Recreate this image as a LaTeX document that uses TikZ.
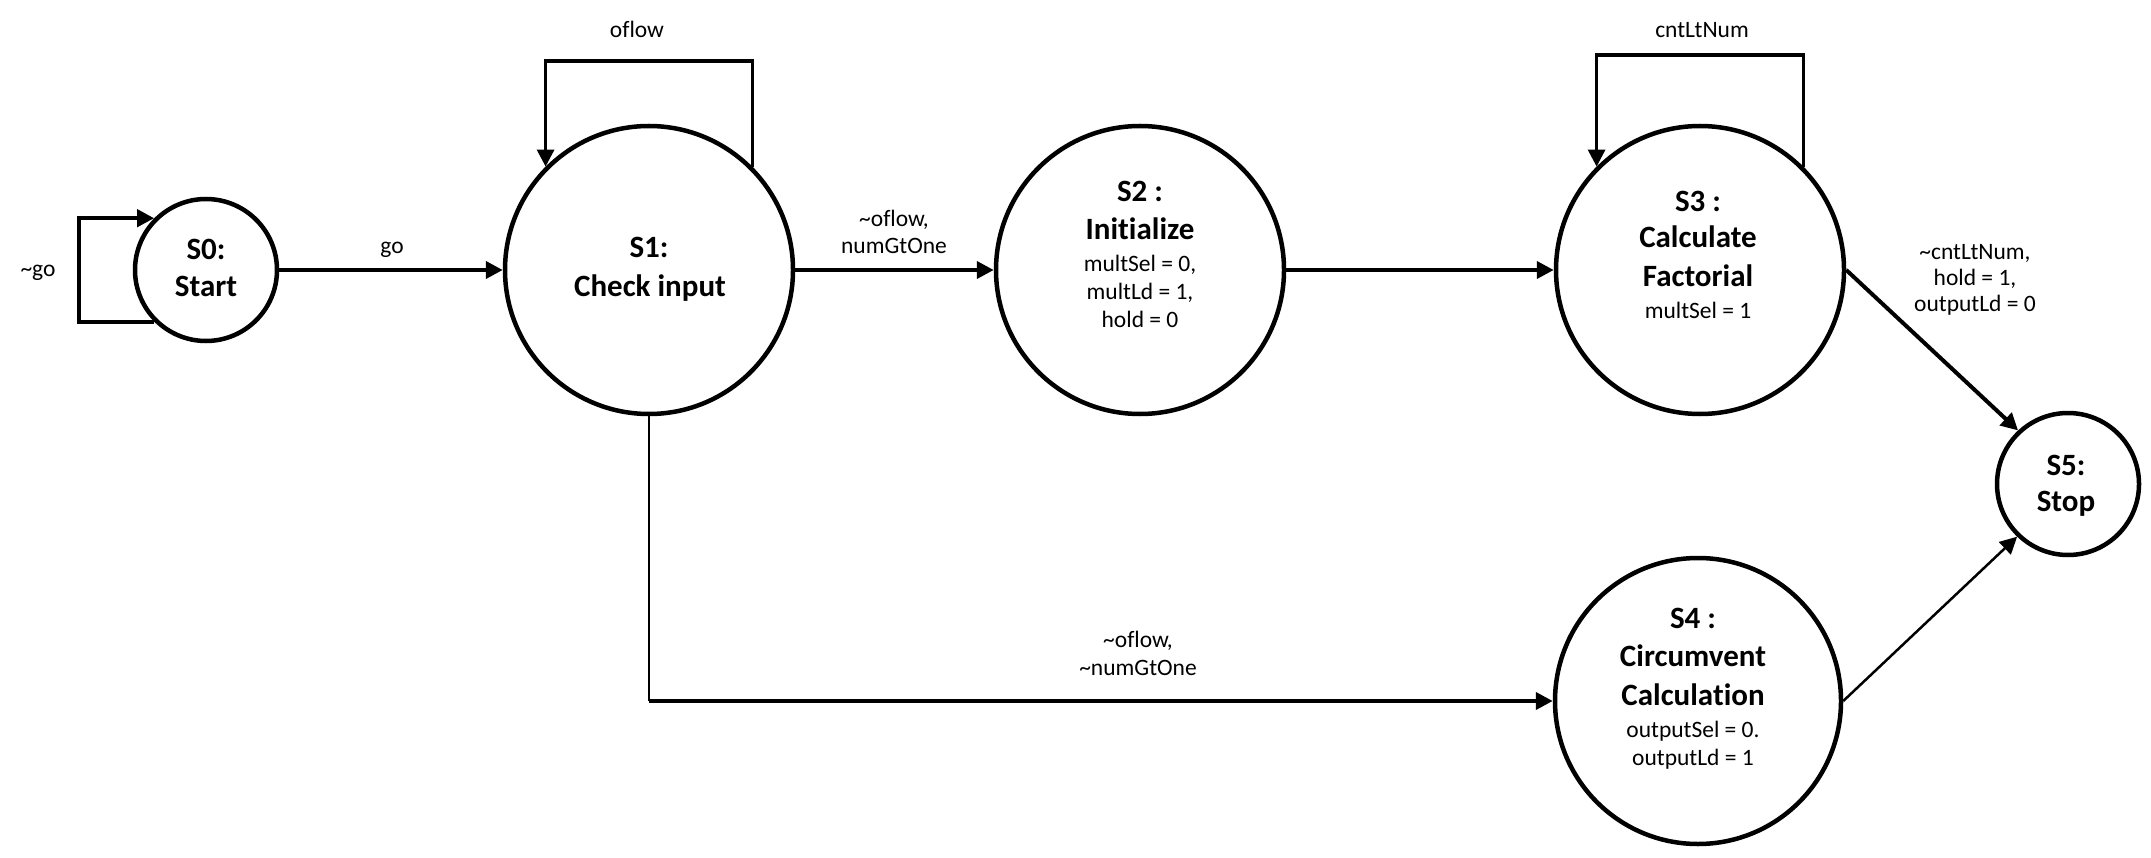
\documentclass[tikz,border=0pt]{standalone}
\usepackage{fontspec}
\setmainfont{Carlito}[Ligatures=NoCommon]
\usetikzlibrary{arrows.meta}
\begin{document}
\begin{tikzpicture}[x=1pt,y=-1pt,
  state/.style={circle,draw,line width=4.5pt,inner sep=0pt,minimum size=#1},
  ttl/.style={anchor=base,inner sep=0pt,font=\fontsize{31}{38}\selectfont\bfseries},
  sml/.style={anchor=base,inner sep=0pt,font=\fontsize{23.5}{28}\selectfont},
  tip/.style={-{Triangle[length=17pt,width=17pt]}},
  arrthick/.style={tip,line width=4pt},
  arrmid/.style={tip,line width=3.2pt},
  arrthin/.style={tip,line width=2.5pt},
  plainthin/.style={line width=2.5pt}]
\useasboundingbox (0,0) rectangle (2151,858);

% states
\node[state=142] (s0) at (206,270) {};
\node[state=288] (s1) at (649,270) {};
\node[state=288] (s2) at (1140,270) {};
\node[state=288] (s3) at (1700,270) {};
\node[state=286] (s4) at (1698,701) {};
\node[state=142] (s5) at (2068,484) {};

% state texts
\node[ttl] (s0a) at (206,260) {S0:};
\node[ttl] (s0b) at (206,297) {Start};
\node[ttl] (s1a) at (649,258) {S1:};
\node[ttl] (s1b) at (650,297) {Check input};
\node[ttl] (s2a) at (1140,202) {S2 :};
\node[ttl] (s2b) at (1140,240) {Initialize};
\node[sml] (s2c) at (1140,272) {multSel = 0,};
\node[sml] (s2d) at (1140,300) {multLd = 1,};
\node[sml] (s2e) at (1140,328) {hold = 0};
\node[ttl] (s3a) at (1698,212) {S3 :};
\node[ttl] (s3b) at (1698,248) {Calculate};
\node[ttl] (s3c) at (1698,287) {Factorial};
\node[sml] (s3d) at (1698,319) {multSel = 1};
\node[ttl] (s4a) at (1693,628) {S4 :};
\node[ttl] (s4b) at (1693,666) {Circumvent};
\node[ttl] (s4c) at (1693,705) {Calculation};
\node[sml] (s4d) at (1693,737) {outputSel = 0.};
\node[sml] (s4e) at (1693,765) {outputLd = 1};
\node[ttl] (s5a) at (2066,475) {S5:};
\node[ttl] (s5b) at (2066,511) {Stop};

% loops
\draw[arrthick] (s0.225) -- ++(-75,0) |- (s0.135);
\coordinate (l1) at (649,61);
\draw[arrmid] (s1.45) |- (l1) -| (s1.135);
\coordinate (l3) at (1700,55);
\draw[arrmid] (s3.45) |- (l3) -| (s3.135);

% transitions
\draw[arrthick] (s0.east) -- (s1.west);
\draw[arrthick] (s1.east) -- (s2.west);
\draw[arrthick] (s2.east) -- (s3.west);
\coordinate (c1) at (s1.south |- s4.west);
\draw[plainthin] (s1.south) -- (c1);
\draw[arrthick] (c1) -- (s4.west);
\draw[arrthick] (s3.east) -- (s5.133);
\draw[arrthin] (s4.east) -- (s5.226);

% labels
\node[sml] (lgo0) at (38,277) {\textasciitilde go};
\node[sml] (lgo) at (392,254) {go};
\node[sml] (lof) at (637,38) {oflow};
\node[sml] (lcnt) at (1702,38) {cntLtNum};
\node[sml] (l12a) at (894,227) {\textasciitilde oflow,};
\node[sml] (l12b) at (894,254) {numGtOne};
\node[sml] (l35a) at (1975,260) {\textasciitilde cntLtNum,};
\node[sml] (l35b) at (1975,286) {hold = 1,};
\node[sml] (l35c) at (1975,312) {outputLd = 0};
\node[sml] (l14a) at (1138,647) {\textasciitilde oflow,};
\node[sml] (l14b) at (1138,675) {\textasciitilde numGtOne};
\end{tikzpicture}
\end{document}
